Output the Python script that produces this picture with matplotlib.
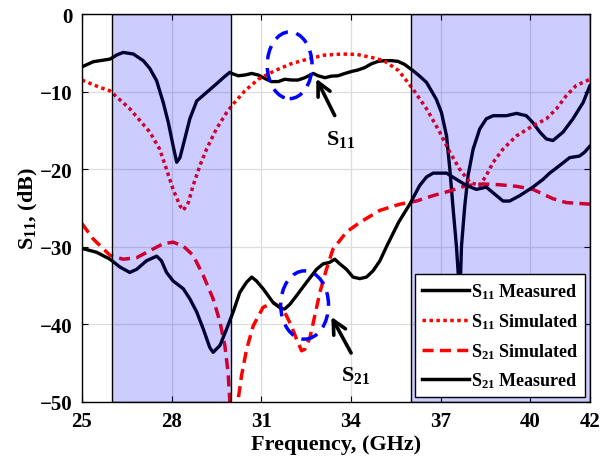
import matplotlib
matplotlib.use("Agg")
import matplotlib.pyplot as plt
from matplotlib.patches import Ellipse
from matplotlib.lines import Line2D

plt.rcParams['font.family'] = ['Liberation Serif']
plt.rcParams['font.weight'] = 'bold'
plt.rcParams['axes.labelweight'] = 'bold'
plt.rcParams['mathtext.fontset'] = 'custom'
plt.rcParams['mathtext.rm'] = 'Liberation Serif:bold'
plt.rcParams['mathtext.bf'] = 'Liberation Serif:bold'
plt.rcParams['mathtext.it'] = 'Liberation Serif:bold'
plt.rcParams['mathtext.default'] = 'rm'

# ---- data ----
s11_meas_x = [25.0, 25.38, 25.94, 26.16, 26.38, 26.72, 27.05, 27.27, 27.5, 27.72, 27.89, 28.05,
              28.17, 28.28, 28.44, 28.61, 28.84, 29.17, 29.5, 29.73, 29.95,
              30.01, 30.23, 30.45, 30.68, 30.9, 31.12, 31.34, 31.57, 31.79, 32.01, 32.23, 32.46,
              32.74, 32.9, 33.13, 33.35, 33.57, 33.8, 34.02, 34.24, 34.46, 34.69, 34.91, 35.13,
              35.36, 35.58, 35.8, 36.08, 36.3, 36.53, 36.86, 37.03, 37.2, 37.31, 37.42, 37.53,
              37.6, 37.65, 37.7, 37.81, 37.92, 38.09, 38.31, 38.53, 38.76, 39.2, 39.54, 39.87,
              40.09, 40.32, 40.54, 40.76, 41.1, 41.43, 41.77, 42.0]
s11_meas_y = [-6.8, -6.14, -5.8, -5.28, -4.94, -5.15, -6.0, -7.0, -8.6, -11.4, -13.96, -16.97,
              -19.1, -18.5, -16.1, -13.5, -11.2, -10.1, -9.0, -8.2, -7.5,
              -7.65, -7.95, -7.86, -7.65, -7.86, -8.3, -8.7, -8.7, -8.4, -8.5, -8.5, -8.2,
              -7.65, -7.95, -8.2, -8.0, -7.95, -7.65, -7.4, -7.2, -6.9, -6.4, -6.1, -6.0,
              -6.0, -6.1, -6.5, -7.3, -8.0, -8.8, -11.0, -12.7, -15.7, -20.0, -25.1, -29.9,
              -34.0, -36.0, -29.9, -24.7, -20.8, -17.4, -14.8, -13.5, -13.1, -13.1, -12.8, -13.1,
              -14.0, -15.2, -16.1, -16.3, -15.2, -13.5, -11.4, -9.2]

s11_sim_x = [25.0, 25.6, 25.94, 26.6, 27.27, 27.6, 27.83, 28.05, 28.28, 28.39, 28.56, 28.72,
             28.95, 29.17, 29.5, 29.84, 30.06, 30.45, 30.9, 31.45, 32.0, 32.56, 33.1, 33.7,
             34.2, 34.7, 35.1, 35.6, 36.08, 36.53, 36.97, 37.31, 37.64, 37.98, 38.31, 38.53,
             38.76, 39.09, 39.54, 40.09, 40.54, 40.88, 41.21, 41.54, 42.0]
s11_sim_y = [-8.5, -9.45, -9.9, -12.2, -15.2, -17.4, -20.0, -22.6, -24.7, -25.3, -24.3, -22.1,
             -19.5, -17.4, -14.8, -12.7, -11.6, -9.9, -8.4, -7.3, -6.4, -5.8, -5.3, -5.15,
             -5.2, -5.6, -6.0, -7.3, -9.7, -12.2, -15.2, -17.8, -20.0, -21.7, -22.1, -20.8,
             -19.1, -17.4, -15.7, -14.4, -13.5, -12.2, -10.5, -9.2, -8.4]

s21_sim_x = [25.0, 25.38, 25.94, 26.38, 26.83, 27.27, 27.72, 28.05, 28.39, 28.72, 29.06, 29.39,
             29.62, 29.78, 29.89, 29.95, 29.97, 30.2, 30.23, 30.34, 30.51, 30.73, 31.06, 31.4,
             31.73, 32.01, 32.18, 32.35, 32.46, 32.63, 32.79, 32.96, 33.18, 33.4, 33.85, 34.3,
             34.97, 35.64, 36.19, 36.75, 37.31, 37.87, 38.42, 38.98, 39.54, 40.09, 40.43,
             40.76, 41.21, 42.0]
s21_sim_y = [-27.0, -29.0, -31.1, -31.6, -31.4, -30.5, -29.6, -29.4, -29.9, -31.1, -33.7, -36.7,
             -39.7, -42.7, -46.2, -50.0, -52.0, -52.0, -49.6, -46.6, -43.2, -40.2, -37.8, -37.2,
             -38.0, -40.2, -41.9, -43.4, -43.2, -41.7, -38.9, -35.9, -32.9, -30.3, -28.1, -26.85,
             -25.3, -24.5, -24.1, -23.4, -22.8, -22.1, -21.9, -22.0, -22.2, -22.6, -23.2,
             -23.8, -24.3, -24.5]

s21_meas_x = [25.0, 25.49, 25.94, 26.27, 26.6, 26.83, 27.16, 27.5, 27.66, 27.83, 28.05, 28.39,
              28.61, 28.84, 29.06, 29.28, 29.39, 29.62, 29.84, 30.06, 30.28, 30.5, 30.68, 30.84,
              31.06, 31.4, 31.68, 31.79, 31.96, 32.18, 32.51, 32.85, 33.07, 33.29, 33.46, 33.63,
              33.85, 34.07, 34.3, 34.52, 34.74, 34.97, 35.2, 35.6, 35.97, 36.3, 36.53, 36.75,
              37.2, 37.53, 37.87, 38.2, 38.53, 38.87, 39.09, 39.31, 39.65, 40.09, 40.43, 40.65,
              40.99, 41.32, 41.65, 41.82, 42.0]
s21_meas_y = [-30.2, -30.7, -31.6, -32.6, -33.3, -32.9, -31.8, -31.2, -31.8, -33.3, -34.4, -35.4,
              -36.7, -38.4, -40.6, -43.0, -43.6, -42.7, -40.6, -38.4, -35.9, -34.6, -33.9, -34.4,
              -35.4, -37.2, -38.0, -38.0, -37.4, -36.3, -34.6, -32.9, -32.2, -32.0, -31.6, -32.2,
              -32.9, -33.9, -34.1, -33.9, -33.1, -31.8, -29.9, -26.8, -24.5, -22.1, -21.0, -20.5,
              -20.5, -21.3, -22.1, -22.6, -22.3, -23.4, -24.1, -24.1, -23.4, -22.3, -21.3, -20.5,
              -19.5, -18.5, -18.3, -17.8, -17.0]

shade_bands = [(26, 30), (36, 42)]
x_ticks = [25, 28, 31, 34, 37, 40, 42]
y_ticks = [0, -10, -20, -30, -40, -50]

fig = plt.figure(figsize=(6.07, 4.64), dpi=100)
ax = fig.add_axes([0.135, 0.1315, 0.837, 0.836])

ax.set_xlim(25, 42)
ax.set_ylim(-50, 0)
ax.set_xticks(x_ticks)
ax.set_yticks(y_ticks)
ax.grid(True, color='#dddddd', lw=0.9, zorder=0)
ax.set_axisbelow(True)
ax.tick_params(direction='in', top=True, right=True, labelsize=15, length=4, width=0.8, pad=6.5)

line_kw = dict(solid_joinstyle='round', solid_capstyle='round', zorder=2)
ax.plot(s11_meas_x, s11_meas_y, color='black', lw=2.4, **line_kw)
ax.plot(s11_sim_x, s11_sim_y, color='red', lw=2.5, linestyle=(0, (1, 1)), zorder=2)
ax.plot(s21_sim_x, s21_sim_y, color='red', lw=2.5, linestyle=(0, (3.2, 1.8)), zorder=2)
ax.plot(s21_meas_x, s21_meas_y, color='black', lw=2.4, **line_kw)

for a, b in shade_bands:
    ax.axvspan(a, b, facecolor=(0, 0, 1, 0.2), edgecolor='black', lw=1.0, zorder=3)

ax.add_patch(Ellipse((31.95, -6.6), 1.5, 8.6, fill=False, edgecolor='blue', lw=2.5,
                     linestyle=(0, (4, 2.5)), zorder=4))
ax.add_patch(Ellipse((32.45, -37.5), 1.6, 8.8, fill=False, edgecolor='blue', lw=2.5,
                     linestyle=(0, (4, 2.5)), zorder=4))

ax.annotate('', xy=(32.8, -8.0), xytext=(33.5, -13.4),
            arrowprops=dict(arrowstyle='->', color='black', lw=2.6, mutation_scale=24), zorder=4)
ax.text(33.65, -16.0, 'S$_{11}$', fontsize=16, ha='center', va='center', zorder=4)
ax.annotate('', xy=(33.3, -38.7), xytext=(34.05, -44.0),
            arrowprops=dict(arrowstyle='->', color='black', lw=2.6, mutation_scale=24), zorder=4)
ax.text(34.15, -46.5, 'S$_{21}$', fontsize=16, ha='center', va='center', zorder=4)

for s in ax.spines.values():
    s.set_linewidth(1.0)
    s.set_zorder(5)

handles = [
    Line2D([], [], color='black', lw=2.5),
    Line2D([], [], color='red', lw=2.5, linestyle=(0, (1, 1))),
    Line2D([], [], color='red', lw=2.5, linestyle=(0, (3.2, 1.8))),
    Line2D([], [], color='black', lw=2.5),
]
labels = ['S$_{11}$ Measured', 'S$_{11}$ Simulated', 'S$_{21}$ Simulated', 'S$_{21}$ Measured']
leg = ax.legend(handles, labels, loc='lower right', fontsize=13, frameon=True, fancybox=False,
                edgecolor='black', framealpha=1, borderaxespad=0.25, handlelength=2.6,
                handletextpad=0.1, labelspacing=0.55, borderpad=0.4)
leg.get_frame().set_linewidth(1.0)
leg.set_zorder(6)

ax.set_xlabel('Frequency, (GHz)', fontsize=16, labelpad=2)
ax.set_ylabel('S$_{11}$, (dB)', fontsize=16, labelpad=0)

fig.savefig('out.png', dpi=100)
